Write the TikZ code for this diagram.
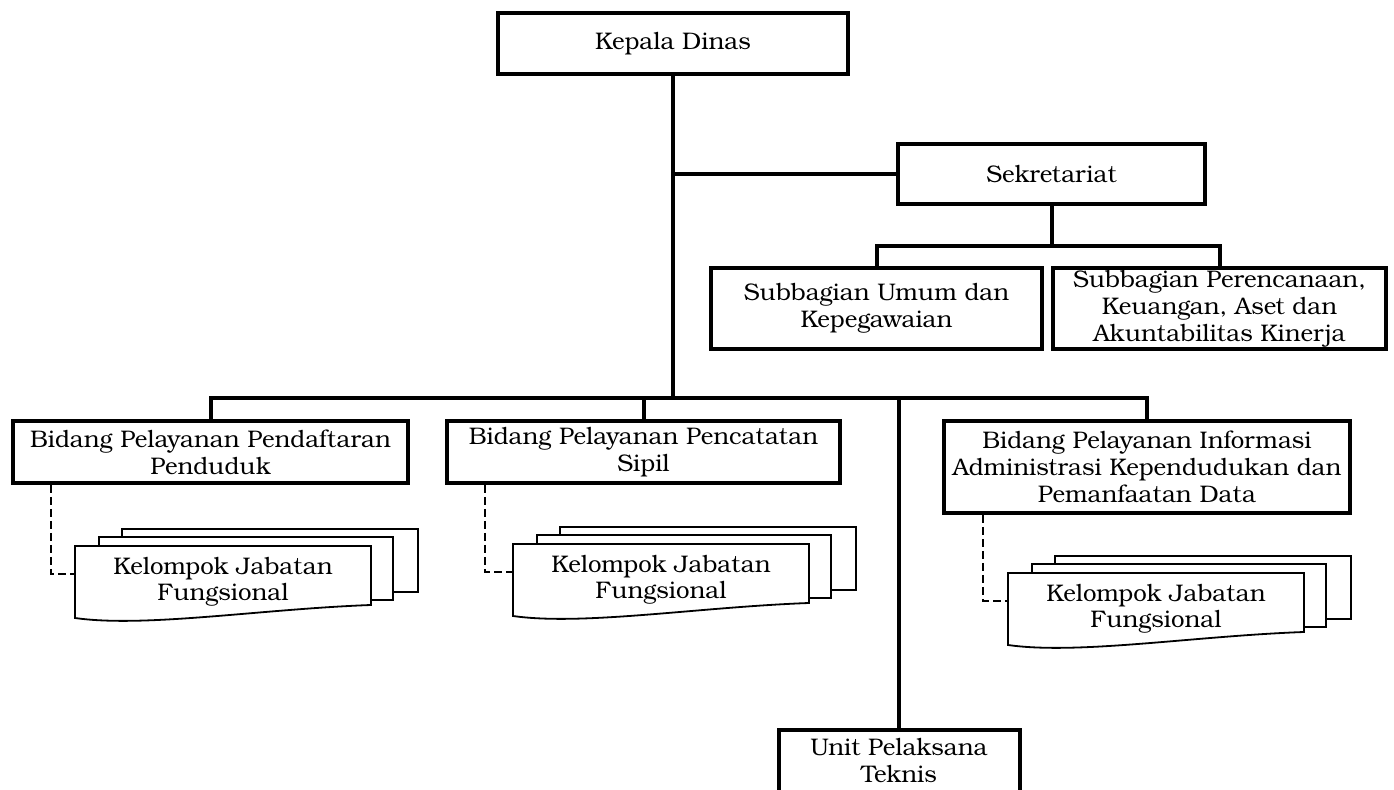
\documentclass[tikz,border=0pt]{standalone}
\usepackage{fontspec}
\setmainfont{TeX Gyre Bonum}
\usepackage{tikz}
\usetikzlibrary{positioning}

\begin{document}
\begin{tikzpicture}
  [
    x=0.5pt, y=-0.5pt,
    Box/.style={rectangle, draw=black, line width=2pt, fill=white, align=center, inner sep=1pt, font=\fontsize{12}{13.5}\selectfont},
    Label/.style={rectangle, align=center, inner sep=0pt, minimum width=148pt, minimum height=36pt, font=\fontsize{12}{13}\selectfont},
    Page/.style={draw=black, line width=0.9pt, fill=white},
    Link/.style={draw=black, line width=2pt},
    Dash/.style={draw=black, line width=1.1pt, dash pattern=on 4pt off 2pt}
  ]
  \useasboundingbox (0,0) rectangle (1394,790);

  % Nodes
  \node[Box, minimum width=175pt, minimum height=30.5pt] (kadis) at (673, 43.5) {Kepala Dinas};

  \node[Box, minimum width=153.5pt, minimum height=30pt] (sek) at (1051.5, 174) {Sekretariat};

  \node[Box, minimum width=165.5pt, minimum height=40.5pt] (subumum) at (876.5, 308.5) {Subbagian Umum dan\\Kepegawaian};
  \node[Box, minimum width=166.5pt, minimum height=40.5pt] (subper) at (1219.5, 309) {Subbagian Perencanaan,\\Keuangan, Aset dan\\Akuntabilitas Kinerja};

  \node[Box, minimum width=197.5pt, minimum height=31pt] (bid1) at (210.5, 452) {Bidang Pelayanan Pendaftaran\\Penduduk};
  \node[Box, minimum width=196.5pt, minimum height=31pt] (bid2) at (643.5, 452) {Bidang Pelayanan Pencatatan\\Sipil};
  \node[Box, minimum width=203pt, minimum height=46pt] (bid3) at (1147, 467) {Bidang Pelayanan Informasi\\Administrasi Kependudukan dan\\Pemanfaatan Data};

  \node[Box, minimum width=120.5pt, minimum height=31pt] (upt) at (899, 761) {Unit Pelaksana\\Teknis};

  % Stacked pages
  \foreach \n/\x/\y in {kjf1/75/546, kjf2/513/544, kjf3/1008/573} {
    \path [Page] (\x+47, \y-17) rectangle ++(296, 63);
    \path [Page] (\x+24, \y-9) rectangle ++(294, 63);
    \path [Page] (\x, \y) -- ++(296, 0) -- ++(0, 59) .. controls +(-110, 4) and +(70, 10) .. (\x, \y+72) -- cycle;
    \node[Label] (\n) at (\x+148, \y+36) {Kelompok Jabatan\\Fungsional};
  }

  \coordinate (bus) at (673, 398);
  \coordinate (subbus) at (1051.5, 246);

  % Lines
  \path [Link] (kadis.south) -- (bus);
  \path [Link] (kadis.south |- sek.west) -- (sek.west);
  \path [Link] (sek.south) -- (subbus);
  \path [Link] (subumum.north) |- (subbus) -| (subper.north);
  \path [Link] (bid1.north) |- (bus) -| (bid3.north);
  \path [Link] (bid2.north) -- (bid2.north |- bus);
  \path [Link] (upt.north) -- (upt.north |- bus);

  \path [Dash] ([xshift=20pt]bid1.south west) |- ([yshift=4pt]kjf1.west);
  \path [Dash] ([xshift=20pt]bid2.south west) |- ([yshift=4pt]kjf2.west);
  \path [Dash] ([xshift=20.5pt]bid3.south west) |- ([yshift=4pt]kjf3.west);

\end{tikzpicture}
\end{document}
